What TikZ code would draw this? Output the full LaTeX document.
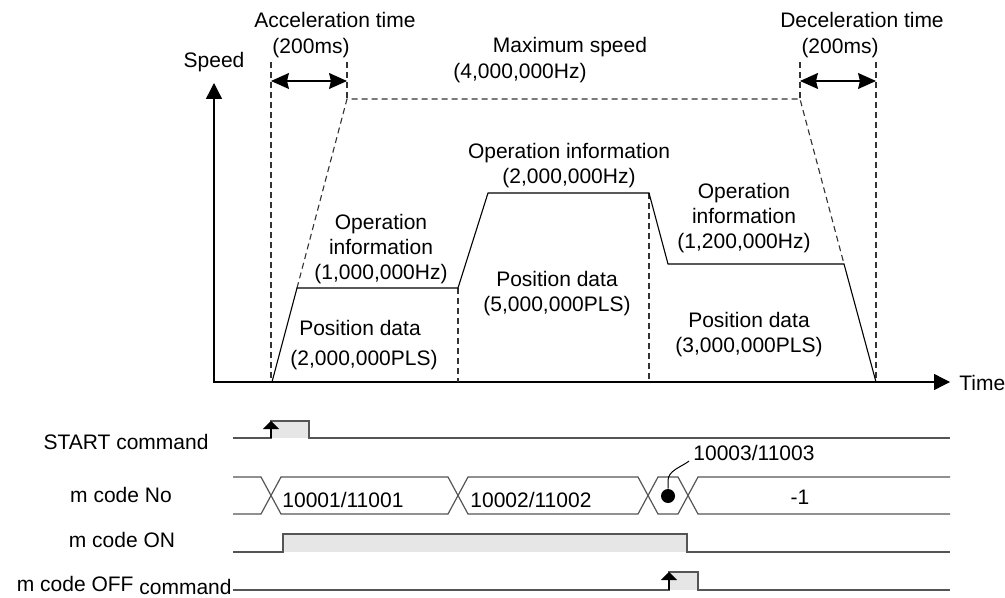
\documentclass[tikz,border=0pt]{standalone}
\usepackage{fontspec}
\setmainfont{Liberation Sans}
\usetikzlibrary{arrows.meta}
\definecolor{sigline}{HTML}{555555}
\definecolor{guidegray}{HTML}{333333}
\definecolor{hifill}{HTML}{E6E6E6}

\begin{document}
\begin{tikzpicture}[
  x=0.5pt, y=-0.5pt,
  font=\fontsize{10.5}{12.5}\selectfont,
  txt/.style={inner sep=0pt,align=center},
  axisline/.style={line width=0.7pt,{Triangle[length=8pt,width=8pt]}-{Triangle[length=8pt,width=8pt]}},
  prof/.style={line width=0.55pt},
  guide/.style={guidegray,line width=0.55pt,dash pattern=on 3pt off 2pt},
  dim/.style={line width=0.55pt,{Stealth[length=9pt,width=8pt,inset=1pt]}-{Stealth[length=9pt,width=8pt,inset=1pt]}},
  sig/.style={sigline,line width=0.6pt},
  hibox/.style={fill=hifill},
  rise/.style={line width=0.6pt,-{Triangle[length=4pt,width=8pt]}}
]
  \useasboundingbox (0,0) rectangle (1005,598);

  % speed profile
  \draw[axisline] (214,83) -- (214,382) -- (950,382);
  \draw[guide] (271,62) -- (271,382);
  \draw[guide] (347,62) -- (347,99);
  \draw[guide] (800,62) -- (800,99);
  \draw[guide] (876,62) -- (876,382);
  \draw[guide] (297,288) -- (347,99) -- (800,99) -- (844,264);
  \draw[guide] (458,288) -- (458,382);
  \draw[guide] (649,193) -- (649,382);
  \draw[prof] (272,382) -- (297,288) -- (458,288) -- (488,193) -- (649,193) -- (668,264) -- (844,264) -- (876,382);
  \draw[dim] (271,81) -- (347,81);
  \draw[dim] (800,81) -- (876,81);

  \node[txt] (acc) at (335,20) {Acceleration time};
  \node[txt] (accms) at (311,48) {(200ms)};
  \node[txt] (dec) at (862,20) {Deceleration time};
  \node[txt] (decms) at (840,48) {(200ms)};
  \node[txt] (spd) at (214,62) {Speed};
  \node[txt] (max) at (570,47) {Maximum speed};
  \node[txt] (maxhz) at (520,73) {(4,000,000Hz)};
  \node[txt] (op1) at (381,249) {Operation\\information\\(1,000,000Hz)};
  \node[txt] (op2) at (569,166) {Operation information\\(2,000,000Hz)};
  \node[txt] (op3) at (744,218) {Operation\\information\\(1,200,000Hz)};
  \node[txt] (pos1) at (360,328) {Position data};
  \node[txt] (pls1) at (364,360) {(2,000,000PLS)};
  \node[txt] (pos2) at (557,294) {Position data\\(5,000,000PLS)};
  \node[txt] (pos3) at (749,335) {Position data\\(3,000,000PLS)};
  \node[txt,anchor=west] (time) at (959,383) {Time};

  % timing chart
  \node[txt] (startlbl) at (126,442) {START command};
  \node[txt] (nolbl) at (121,495) {m code No};
  \node[txt] (onlbl) at (122,540) {m code ON};
  \node[txt,anchor=east] (offlbl) at (232,585) {m code OFF \raisebox{-1.5pt}{command}};

  \fill[hibox] (271,421) rectangle (309,438);
  \draw[sig] (233,438) -- (271,438) -- (271,421) -- (309,421) -- (309,438) -- (950,438);
  \draw[rise] (271,438) -- (271,421);

  \draw[sig] (233,477) -- (261,477) -- (281,514) -- (448,514) -- (468,477) -- (638,477) -- (658,514) -- (678,514) -- (698,477) -- (950,477);
  \draw[sig] (233,514) -- (261,514) -- (281,477) -- (448,477) -- (468,514) -- (638,514) -- (658,477) -- (678,477) -- (698,514) -- (950,514);
  \node[txt,anchor=west] (no1) at (282,500) {10001/11001};
  \node[txt,anchor=west] (no2) at (470,500) {10002/11002};
  \node[txt] (no4) at (800,497) {-1};
  \node[txt,anchor=west] (no3) at (693,453) {10003/11003};
  \node[circle,fill=black,inner sep=0pt,minimum size=7pt] (dot) at (668,496) {};
  \draw[line width=0.5pt] (dot.north) -- ++(0,-8) .. controls +(0,-10) and +(-8,6) .. ([xshift=-2pt]no3.south west);

  \fill[hibox] (283,534) rectangle (687,552);
  \draw[sig] (233,552) -- (283,552) -- (283,534) -- (687,534) -- (687,552) -- (950,552);

  \fill[hibox] (669,572) rectangle (698,590);
  \draw[sig] (233,590) -- (669,590) -- (669,572) -- (698,572) -- (698,590) -- (950,590);
  \draw[rise] (669,590) -- (669,572);
\end{tikzpicture}
\end{document}
